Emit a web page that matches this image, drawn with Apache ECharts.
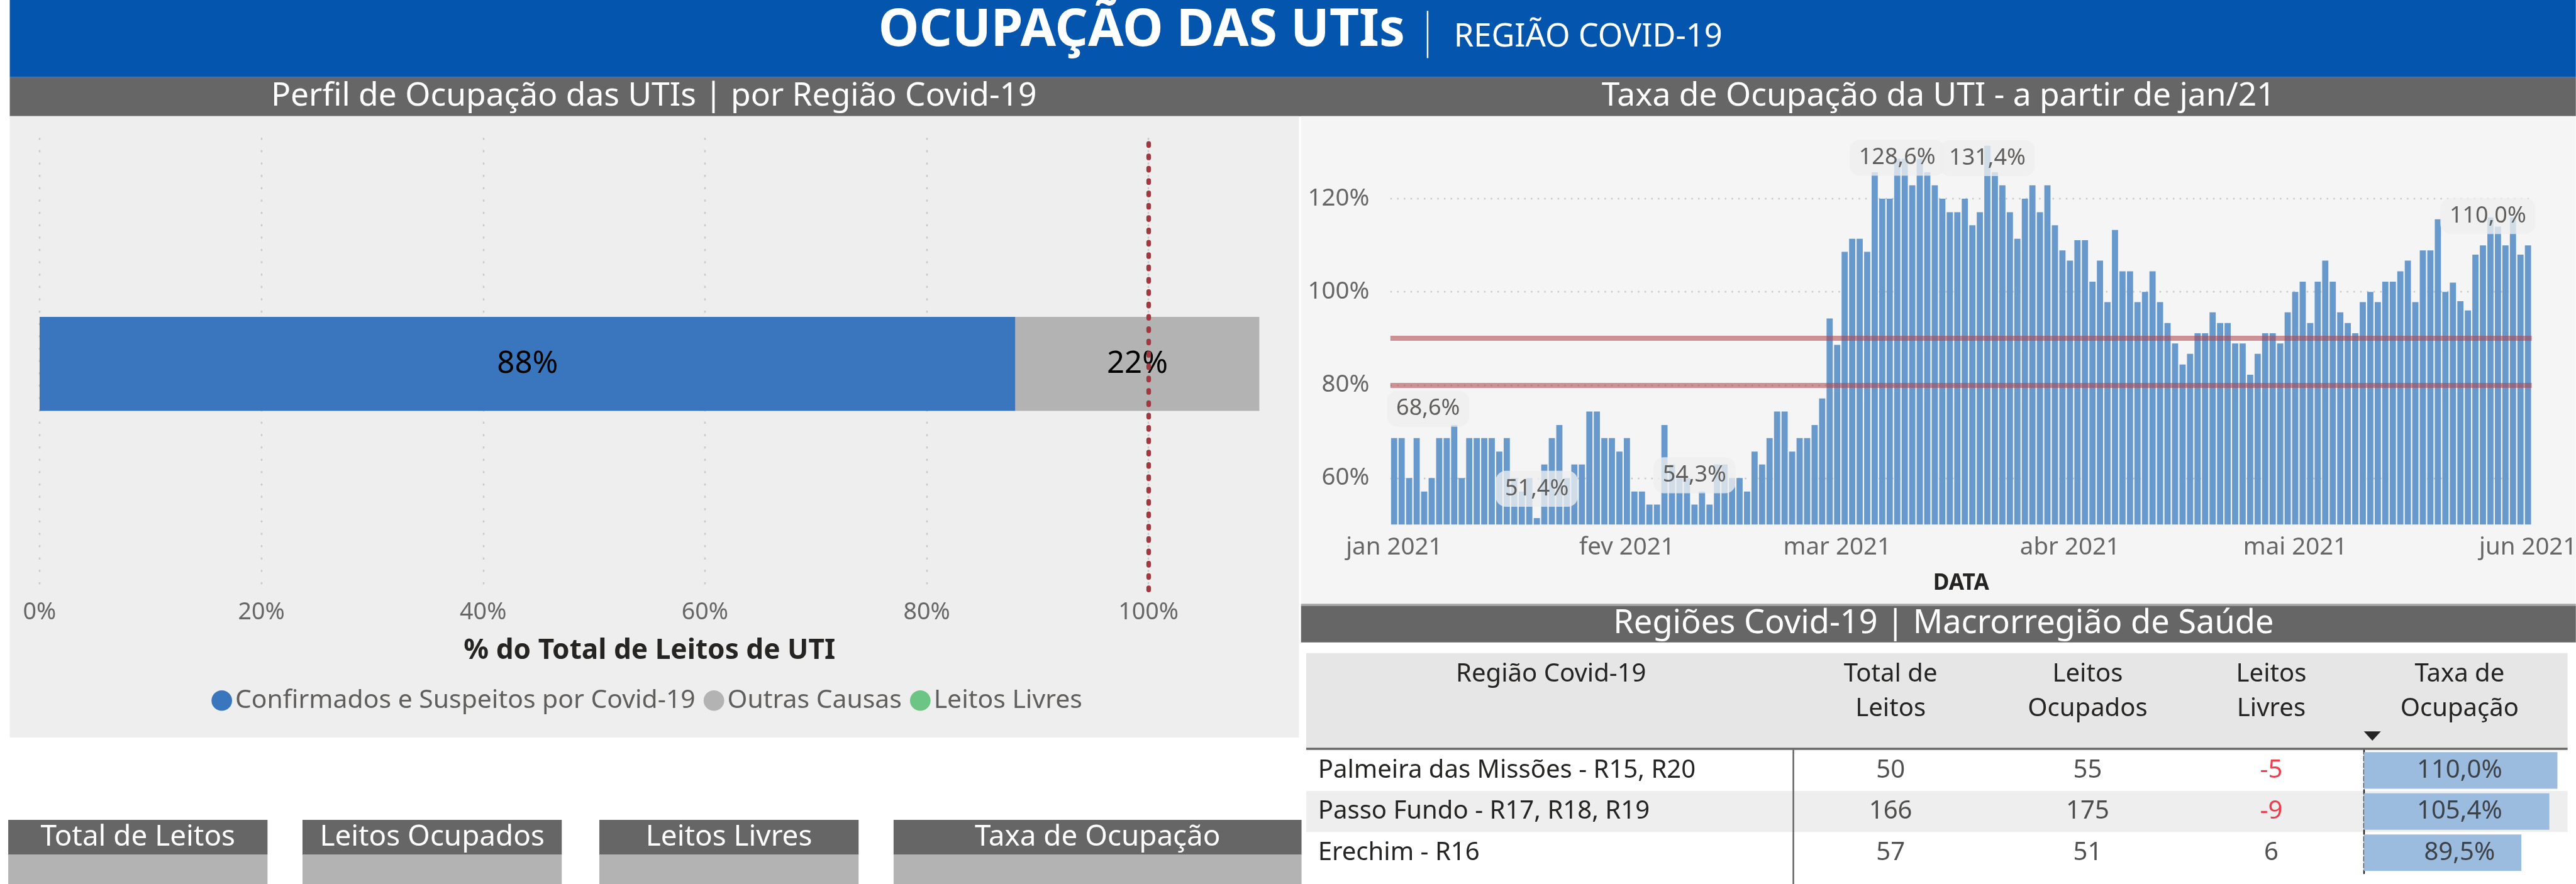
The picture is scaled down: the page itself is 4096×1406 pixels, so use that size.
<!DOCTYPE html>
<html>
<head>
<meta charset="utf-8">
<script src="https://cdn.jsdelivr.net/npm/echarts@6.0.0/dist/echarts.min.js"></script>
<style>
html, body { margin: 0; padding: 0; background: #fff; }
#main { width: 4096px; height: 1406px; }
</style>
</head>
<body>
<div id="main"></div>
<script>
// tudo foi medido no tamanho original (5007 px) e reduzido por S
const S = 0.818;
function p(v) { return v * S; }
const FONT = '"Noto Sans", "Open Sans", sans-serif';

/* perfil de ocupacao (barra empilhada) */
const perfilSeries = ['Confirmados e Suspeitos por Covid-19', 'Outras Causas', 'Leitos Livres'];
const perfilValues = [88, 22, 0];
const perfilColors = ['#3976bd', '#b3b3b3', '#6cc485'];
const perfilTicks = [0, 20, 40, 60, 80, 100];
const perfilLimite = 100;

/* taxa diaria de ocupacao, 01/01/2021 a 01/06/2021 */
const taxaValues = [
    // jan
    68.6, 68.6, 60.0, 68.6, 57.1, 60.0, 68.6, 68.6, 71.4, 60.0,
    68.6, 68.6, 68.6, 68.6, 65.7, 68.6, 60.0, 57.1, 60.0, 51.4,
    62.9, 68.6, 71.4, 60.0, 62.9, 62.9, 74.3, 74.3, 68.6, 68.6,
    65.7,
    // fev
    68.6, 57.1, 57.1, 54.3, 54.3, 71.4, 62.9, 60.0, 60.0, 54.3,
    57.1, 54.3, 62.9, 62.9, 60.0, 60.0, 57.1, 65.7, 62.9, 68.6,
    74.3, 74.3, 65.7, 68.6, 68.6, 71.4, 77.1, 94.3,
    // mar
    88.6, 108.6, 111.4, 111.4, 108.6, 125.7, 120.0, 120.0, 128.6, 128.6,
    122.9, 128.6, 125.7, 122.9, 120.0, 117.1, 117.1, 120.0, 114.3, 117.1,
    131.4, 125.7, 122.9, 117.1, 111.4, 120.0, 122.9, 117.1, 122.9, 114.3,
    108.9,
    // abr
    106.7, 111.1, 111.1, 102.2, 106.7, 97.8, 113.3, 104.4, 104.4, 97.8,
    100.0, 104.4, 97.8, 93.3, 88.9, 84.4, 86.7, 91.1, 91.1, 95.6,
    93.3, 93.3, 88.9, 88.9, 82.2, 86.7, 91.1, 91.1, 88.9, 95.6,
    // mai
    100.0, 102.2, 93.3, 102.2, 106.7, 102.2, 95.6, 93.3, 91.1, 97.8,
    100.0, 97.8, 102.2, 102.2, 104.4, 106.7, 97.8, 108.9, 108.9, 115.6,
    100.0, 102.0, 98.0, 96.0, 108.0, 110.0, 116.0, 114.0, 110.0, 116.0,
    108.0,
    // jun
    110.0
];
const monthNames = ['jan', 'fev', 'mar', 'abr', 'mai', 'jun', 'jul', 'ago', 'set', 'out', 'nov', 'dez'];
const taxaTicks = [60, 80, 100, 120];
const taxaRefs = [90, 80];
const taxaLabelIdx = [0, 19, 40, 67, 79, 151];

/* tabela por regiao */
const regioes = ['Palmeira das Missões - R15, R20', 'Passo Fundo - R17, R18, R19', 'Erechim - R16'];
const totalLeitos = [50, 166, 57];
const leitosOcupados = [55, 175, 51];
const leitosLivres = [-5, -9, 6];
const taxaOcupacao = [110.0, 105.4, 89.5];
const colunas = ['Região Covid-19', 'Total de\nLeitos', 'Leitos\nOcupados', 'Leitos\nLivres', 'Taxa de\nOcupação'];
const kpis = ['Total de Leitos', 'Leitos Ocupados', 'Leitos Livres', 'Taxa de Ocupação'];

// datas do eixo (categorias)
let taxaDates = [];
for (let i = 0; i < taxaValues.length; i++) {
    let d = new Date(Date.UTC(2021, 0, 1 + i));
    taxaDates.push(d.toISOString().slice(0, 10));
}

function pct1(v) { return v.toFixed(1).replace('.', ',') + '%'; }

// deslocamento dos rotulos (layout, em px do original)
const labelOffsets = { 0: [66, 0], 67: [0, 55], 79: [0, 81], 151: [-78, 0] };
let taxaData = taxaValues.map(function (v, i) {
    if (taxaLabelIdx.indexOf(i) < 0) return v;
    let off = labelOffsets[i] || [0, 0];
    return { value: v, label: { show: true, offset: [p(off[0]), p(off[1])] } };
});

/* ---------- layout ---------- */
const colCenters = [3675, 4058, 4415, 4781];   // centro das colunas numericas
const rowTop = 1458, rowH = 80;
const kpiBoxes = [[16, 520], [588, 1092], [1165, 1669], [1737, 2530]];

function rect(x, y, w, h, fill, z) {
    return { type: 'rect', z: z === undefined ? -10 : z, silent: true,
        shape: { x: p(x), y: p(y), width: p(w), height: p(h) }, style: { fill: fill } };
}
function text(str, x, y, size, color, opts) {
    opts = opts || {};
    return { type: 'text', z: 10, silent: true, x: p(x), y: p(y),
        style: { text: str, fill: color, fontSize: p(size), fontFamily: FONT,
            fontWeight: opts.bold ? 'bold' : 'normal',
            align: opts.align || 'center', verticalAlign: opts.va || 'middle',
            lineHeight: opts.lh ? p(opts.lh) : undefined } };
}

let graphics = [
    rect(19, 0, 4988, 150, '#0455ad'),
    text('OCUPAÇÃO DAS UTIs', 2731, 61, 100, '#ffffff', { bold: true, align: 'right' }),
    { type: 'line', z: 10, silent: true, shape: { x1: p(2775), y1: p(21), x2: p(2775), y2: p(113) },
      style: { stroke: '#ffffff', lineWidth: p(3) } },
    text('REGIÃO COVID-19', 2826, 73, 62, '#ffffff', { align: 'left' }),
    rect(19, 150, 4988, 76, '#666666'),
    text('Perfil de Ocupação das UTIs | por Região Covid-19', 1271, 188, 63, '#ffffff'),
    text('Taxa de Ocupação da UTI - a partir de jan/21', 3768, 188, 63, '#ffffff'),
    rect(19, 226, 2506, 1208, '#eeeeee'),
    rect(2529, 226, 2478, 948, '#f5f5f5'),
    rect(2529, 1174, 2478, 4, '#a6a6a6'),
    rect(2529, 1178, 2478, 71, '#666666'),
    text('Regiões Covid-19 | Macrorregião de Saúde', 3778, 1213, 64, '#ffffff'),
    rect(2539, 1270, 2452, 184, '#e6e6e6'),
    rect(2539, 1454, 2452, 4, '#666666', 5),
    { type: 'polygon', z: 10, silent: true,
      shape: { points: [[p(4595), p(1422)], [p(4628), p(1422)], [p(4611.5), p(1440)]] },
      style: { fill: '#252423' } },
    { type: 'line', z: 10, silent: true, shape: { x1: p(3486), y1: p(1458), x2: p(3486), y2: p(1719) },
      style: { stroke: '#606060', lineWidth: p(3) } }
];
let headerX = [3015].concat(colCenters);
colunas.forEach(function (c, i) {
    graphics.push(text(c, headerX[i], 1277, 49, '#252423', { va: 'top', lh: 68 }));
});
kpis.forEach(function (k, i) {
    let b = kpiBoxes[i];
    graphics.push(rect(b[0], 1594, b[1] - b[0], 68, '#666666'));
    graphics.push(rect(b[0], 1662, b[1] - b[0], 57, '#b3b3b3'));
    graphics.push(text(k, (b[0] + b[1]) / 2, 1628, 56, '#ffffff'));
});

/* ---------- grids ---------- */
let grids = [
    { left: p(77), top: p(268), width: p(2371), height: p(879) },            // 0 perfil
    { left: p(2702.7), top: p(250.7), width: p(2218.6), height: p(769.3) },  // 1 taxa diaria
    { left: p(2539), top: p(rowTop), width: p(2452), height: p(rowH * 3) }    // 2 tabela (nomes)
];
colCenters.forEach(function (c) {                                             // 3..6 colunas
    grids.push({ left: p(c - 150), top: p(rowTop), width: p(300), height: p(rowH * 3) });
});
grids.push({ left: p(4595), top: p(rowTop), width: p(410.4), height: p(rowH * 3) }); // 7 barras taxa
grids.forEach(function (g) { g.outerBoundsMode = 'none'; g.containLabel = false; });

let xAxes = [
    { gridIndex: 0, type: 'value', min: 0, max: 110,
      axisLine: { show: false }, axisTick: { show: false, customValues: perfilTicks },
      axisLabel: { customValues: perfilTicks, formatter: '{value}%', margin: p(21), fontSize: p(46), color: '#666666' },
      splitLine: { show: true, lineStyle: { color: '#c8c8c8', width: p(3), type: [p(4), p(20)] } },
      name: '% do Total de Leitos de UTI', nameLocation: 'middle', nameGap: p(119),
      nameTextStyle: { fontWeight: 'bold', fontSize: p(54), color: '#252423', verticalAlign: 'middle' } },
    { gridIndex: 1, type: 'category', data: taxaDates,
      axisLine: { show: false }, axisTick: { show: false },
      axisLabel: {
          interval: function (i, v) { return v.slice(8) === '01'; },
          formatter: function (v) { return monthNames[+v.slice(5, 7) - 1] + ' ' + v.slice(0, 4); },
          margin: p(22), fontSize: p(47), color: '#666666' },
      name: 'DATA', nameLocation: 'middle', nameGap: p(115),
      nameTextStyle: { fontWeight: 'bold', fontSize: p(43), color: '#252423', verticalAlign: 'middle' } },
    { gridIndex: 2, type: 'category', data: ['r'], show: false }
];
let yAxes = [
    { gridIndex: 0, type: 'category', data: ['UTI'], show: false },
    { gridIndex: 1, type: 'value', min: 50, max: 135,
      axisLine: { show: false }, axisTick: { show: false, customValues: taxaTicks },
      axisLabel: { customValues: taxaTicks, formatter: '{value}%', margin: p(40.7), fontSize: p(47), color: '#666666' },
      splitLine: { show: true, lineStyle: { color: '#c8c8c8', width: p(3), type: [p(3), p(10)] } } },
    { gridIndex: 2, type: 'category', data: regioes, inverse: true,
      axisLine: { show: false }, axisTick: { show: false },
      axisLabel: { inside: true, margin: p(23), fontSize: p(49), color: '#252423', align: 'left' },
      splitArea: { show: true, areaStyle: { color: ['#ffffff', '#eeeeee'] } } }
];
for (let g = 3; g <= 6; g++) {
    xAxes.push({ gridIndex: g, type: 'category', data: ['c'], show: false });
    yAxes.push({ gridIndex: g, type: 'category', data: regioes, inverse: true, show: false });
}
xAxes.push({ gridIndex: 7, type: 'value', min: 0, max: 120, show: false });
yAxes.push({ gridIndex: 7, type: 'category', data: regioes, inverse: true,
    axisLine: { show: true, lineStyle: { color: '#252423', width: p(3), type: [p(8), p(5)] } },
    axisTick: { show: false }, axisLabel: { show: false }, splitLine: { show: false } });

/* ---------- series ---------- */
let series = [];
perfilSeries.forEach(function (name, i) {
    let s = {
        name: name, type: 'bar', stack: 'total', xAxisIndex: 0, yAxisIndex: 0,
        data: [perfilValues[i]], barWidth: p(183), itemStyle: { color: perfilColors[i] },
        label: { show: true, position: 'inside', fontSize: p(60), color: '#000000',
            formatter: function (pp) { return pp.value > 0 ? pp.value + '%' : ''; } },
        emphasis: { disabled: true }
    };
    if (i === 0) {
        s.markLine = { silent: true, symbol: 'none', label: { show: false },
            lineStyle: { color: '#a4373e', width: p(9), type: [p(4), p(20)], cap: 'round' },
            data: [{ xAxis: perfilLimite }] };
    }
    series.push(s);
});

series.push({
    name: 'Taxa de Ocupação', type: 'bar', xAxisIndex: 1, yAxisIndex: 1,
    data: taxaData, barCategoryGap: '18%', itemStyle: { color: '#6799cc' },
    label: { show: false, position: 'top', distance: p(22), fontSize: p(44), lineHeight: p(50),
        color: '#605e5c', backgroundColor: 'rgba(238,238,238,0.78)', borderRadius: p(20),
        padding: [p(10), p(18)], formatter: function (pp) { return pct1(pp.value); } },
    emphasis: { disabled: true },
    markLine: { silent: true, symbol: 'none', label: { show: false },
        lineStyle: { color: 'rgba(176,70,79,0.58)', width: p(10), type: 'solid' },
        data: taxaRefs.map(function (v) { return { yAxis: v }; }) }
});

function colunaTexto(gridIdx, values, fmt, colorFn) {
    return {
        type: 'scatter', xAxisIndex: gridIdx, yAxisIndex: gridIdx, symbolSize: 1,
        itemStyle: { color: 'transparent' }, emphasis: { disabled: true },
        data: values.map(function (v, i) {
            return { value: [0, i, v], label: { color: colorFn ? colorFn(v) : '#252423' } };
        }),
        label: { show: true, position: 'inside', fontSize: p(49),
            formatter: function (pp) { return fmt(pp.value[2]); } }
    };
}
// serie "vazia" so para a grade dos nomes
series.push({ type: 'scatter', xAxisIndex: 2, yAxisIndex: 2, data: [], silent: true });
series.push(colunaTexto(3, totalLeitos, String));
series.push(colunaTexto(4, leitosOcupados, String));
series.push(colunaTexto(5, leitosLivres, String, function (v) { return v < 0 ? '#e81123' : '#252423'; }));
series.push(colunaTexto(6, taxaOcupacao, pct1));
series.push({
    type: 'bar', xAxisIndex: 7, yAxisIndex: 7, data: taxaOcupacao, barWidth: p(71),
    itemStyle: { color: '#9bbbdf' }, emphasis: { disabled: true }, z: 1
});

let option = {
    animation: false,
    backgroundColor: '#ffffff',
    textStyle: { fontFamily: FONT },
    graphic: graphics,
    legend: {
        data: perfilSeries, left: p(405), top: p(1359) - p(28), icon: 'circle',
        itemWidth: p(40), itemHeight: p(40), itemGap: p(16),
        textStyle: { fontSize: p(50), color: '#605e5c' }, selectedMode: false
    },
    grid: grids,
    xAxis: xAxes,
    yAxis: yAxes,
    series: series
};

let chart = echarts.init(document.getElementById('main'), null, { renderer: 'canvas' });
chart.setOption(option);
</script>
</body>
</html>
